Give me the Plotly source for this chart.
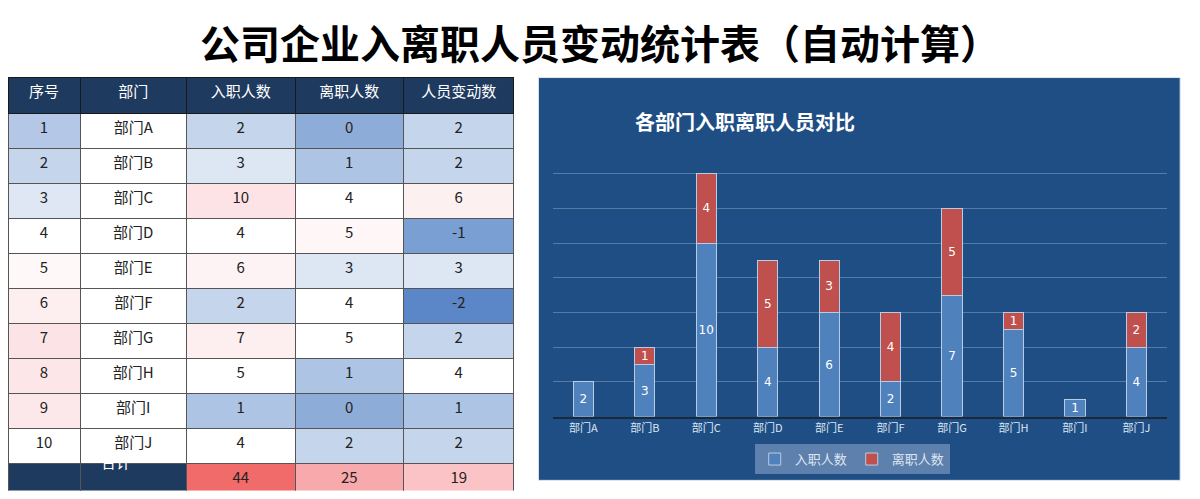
import plotly.graph_objects as go

# ---------------------------------------------------------------------------
seq = [str(i) for i in range(1, 11)]
depts = ["部门A", "部门B", "部门C", "部门D", "部门E", "部门F", "部门G", "部门H", "部门I", "部门J"]
hired = [2, 3, 10, 4, 6, 2, 7, 5, 1, 4]
left = [0, 1, 4, 5, 3, 4, 5, 1, 0, 2]
change = [2, 2, 6, -1, 3, -2, 2, 4, 1, 2]
headers = ["序号", "部门", "入职人数", "离职人数", "人员变动数"]

# conditional-format colours
seq_colors = ["#b4c7e7", "#c5d5ec", "#dfe7f4", "#ffffff", "#fff8f8",
              "#fdeef0", "#fce4e6", "#fde6e8", "#fce8ea", "#ffffff"]
hired_colors = ["#c5d5ec", "#dde6f3", "#fde3e5", "#ffffff", "#fef3f4",
                "#c5d5ec", "#fdeef0", "#ffffff", "#aec4e5", "#ffffff"]
left_colors = ["#8eacd8", "#aec4e5", "#ffffff", "#fff6f7", "#dde6f3",
               "#ffffff", "#ffffff", "#aec4e5", "#8eacd8", "#c5d5ec"]
change_colors = ["#c5d5ec", "#c5d5ec", "#fdf0f1", "#7a9fd3", "#dde6f3",
                 "#5b87c8", "#c5d5ec", "#ffffff", "#aec4e5", "#c5d5ec"]

NAVY = "#1f3a5f"
CELL_FONT = "Noto Sans CJK SC"

fig = go.Figure()

# table: body rows + footer row
col_vals = [
    seq + [""],
    depts + [""],
    [str(v) for v in hired] + [str(sum(hired))],
    [str(v) for v in left] + [str(sum(left))],
    [str(v) for v in change] + [str(sum(change))],
]
col_fill = [
    seq_colors + [NAVY],
    ["#ffffff"] * 10 + [NAVY],
    hired_colors + ["#f26b6b"],
    left_colors + ["#f8a9ab"],
    change_colors + ["#fbc3c5"],
]
fig.add_trace(go.Table(
    domain=dict(x=[0.0, 0.4275], y=[0.0, 0.856]),
    columnwidth=[73, 108, 110, 110, 112],
    header=dict(values=headers, fill_color=NAVY, line_color="#1a1a1a",
                font=dict(color="white", size=15, family=CELL_FONT),
                height=36, align="center"),
    cells=dict(values=col_vals, fill_color=col_fill, line_color="#555555",
               font=dict(color="#222222", size=15, family=CELL_FONT),
               height=35, align="center"),
))

# stacked bars
for vals, name, color in [(hired, "入职人数", "#4f81bd"), (left, "离职人数", "#c0504d")]:
    fig.add_trace(go.Bar(x=depts, y=vals, name=name, text=vals,
                         marker=dict(color=color, line=dict(color="#b8cce4", width=1)),
                         textposition="inside", insidetextanchor="middle", textangle=0,
                         constraintext="none",
                         textfont=dict(color="white", size=12, family="DejaVu Sans")))

fig.update_layout(
    autosize=True,
    margin=dict(l=0, r=0, t=0, b=0),
    paper_bgcolor="white",
    plot_bgcolor="rgba(0,0,0,0)",
    barmode="stack",
    bargap=0.67,
    font=dict(family=CELL_FONT),
    title=dict(text="<b>公司企业入离职人员变动统计表（自动计算）</b>", x=0.5, xanchor="center",
               y=0.924, yanchor="middle", yref="container",
               font=dict(size=40, color="black")),
    xaxis=dict(domain=[0.46, 0.979], showgrid=False, showline=True,
               linecolor="#1a2a3a", linewidth=2,
               tickfont=dict(color="#dce6f2", size=11)),
    yaxis=dict(domain=[0.154, 0.729], range=[0, 16], dtick=2,
               showticklabels=False, gridcolor="rgba(150,180,210,0.45)",
               zeroline=False),
    legend=dict(orientation="h", x=0.713, xanchor="center", y=0.035, yanchor="bottom",
                bgcolor="rgba(170,190,220,0.45)", font=dict(color="#dce6f2", size=13),
                itemwidth=30, traceorder="normal"),
    shapes=[dict(type="rect", xref="paper", yref="paper", x0=0.448, x1=0.99,
                 y0=0.022, y1=0.856, fillcolor="#1f4e85",
                 line=dict(color="#dfe6ee", width=1), layer="below")],
    annotations=[
        dict(text="<b>各部门入职离职人员对比</b>", xref="paper", yref="paper",
             x=0.717, y=0.8, showarrow=False, font=dict(size=20, color="white")),
        dict(text="合计", xref="paper", yref="paper", x=0.0765, y=0.036,
             showarrow=False, font=dict(size=15, color="white")),
    ],
)

fig.write_html("out.html")
